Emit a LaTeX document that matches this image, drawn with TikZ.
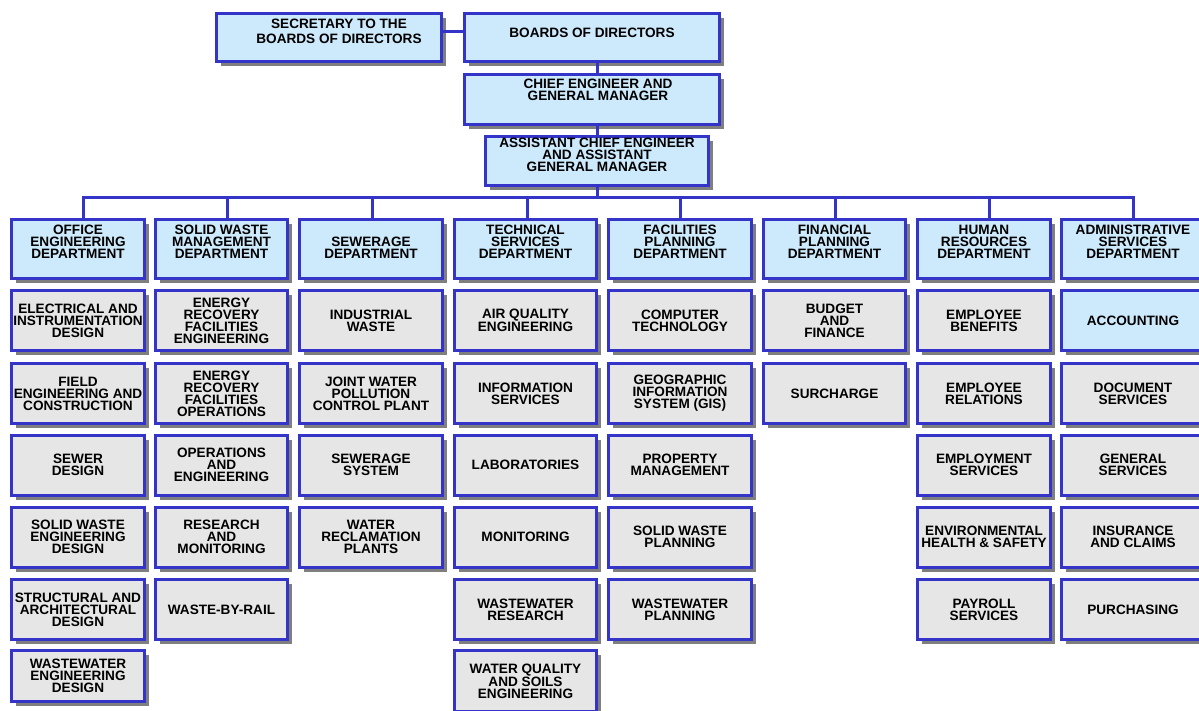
\documentclass[tikz,border=0pt]{standalone}
\usepackage{fontspec}
\setmainfont{Liberation Sans}
\usetikzlibrary{shadows}
\definecolor{bdr}{RGB}{52,52,200}
\definecolor{lb}{RGB}{204,234,252}
\definecolor{gr}{RGB}{230,230,230}
\definecolor{shd}{RGB}{105,105,105}
\newcommand\boxfont{\fontsize{13.6}{12}\selectfont\bfseries}
\newcommand\secfont{\fontsize{13.6}{15}\selectfont\bfseries}
\begin{document}
\begin{tikzpicture}[x=1pt,y=-1pt,
  box/.style={draw=bdr, line width=3pt, inner sep=0pt, align=center, font=\boxfont,
    drop shadow={shadow xshift=4.5pt, shadow yshift=-4.5pt, fill=shd, opacity=0.85}},
  hbox/.style={box, fill=lb},
  ibox/.style={box, fill=gr},
  txt/.style={inner sep=0pt, align=center, font=\boxfont},
  conn/.style={draw=bdr, line width=3pt},
  colA/.style={minimum width=133pt},
  colB/.style={minimum width=132pt},
  colC/.style={minimum width=143pt},
  colD/.style={minimum width=142pt},
  colE/.style={minimum width=143pt},
  colF/.style={minimum width=142pt},
  colG/.style={minimum width=133pt},
  colH/.style={minimum width=143pt},
  rowh/.style={minimum height=59pt},
  rowi/.style={minimum height=60pt},
]
\path[fill=white, use as bounding box] (0,0) rectangle (1199,711);

% top boxes
\node[hbox, minimum width=225pt, minimum height=48pt] (sec) at (329,37.5) {};
\node[txt, font=\secfont] (sect) at ([xshift=10pt,yshift=6pt]sec.center) {SECRETARY TO THE\\BOARDS OF DIRECTORS};
\node[hbox, minimum width=255pt, minimum height=48pt] (brd) at (592,37.5) {};
\node[txt] (brdt) at ([yshift=4.5pt]brd.center) {BOARDS OF DIRECTORS};
\node[hbox, minimum width=255pt, minimum height=50pt] (chf) at (592,99.5) {};
\node[txt] (chft) at ([xshift=6pt,yshift=9.5pt]chf.center) {CHIEF ENGINEER AND\\GENERAL MANAGER};
\node[hbox, minimum width=223pt, minimum height=49pt] (ast) at (597,161) {};
\node[txt] (astt) at ([yshift=6pt]ast.center) {ASSISTANT CHIEF ENGINEER\\AND ASSISTANT\\GENERAL MANAGER};

% department headers
\node[hbox, colA, rowh] (h1) at (78,249) {};
\node[hbox, colB, rowh] (h2) at (221.5,249) {};
\node[hbox, colC, rowh] (h3) at (371,249) {};
\node[hbox, colD, rowh] (h4) at (525.5,249) {};
\node[hbox, colE, rowh] (h5) at (680,249) {};
\node[hbox, colF, rowh] (h6) at (834.5,249) {};
\node[hbox, colG, rowh] (h7) at (984,249) {};
\node[hbox, colH, rowh] (h8) at (1133,249) {};
\node[txt] (h1t) at ([yshift=7.5pt]h1.center) {OFFICE\\ENGINEERING\\DEPARTMENT};
\node[txt] (h2t) at ([yshift=7.5pt]h2.center) {SOLID WASTE\\MANAGEMENT\\DEPARTMENT};
\node[txt] (h3t) at ([yshift=1.5pt]h3.center) {SEWERAGE\\DEPARTMENT};
\node[txt] (h4t) at ([yshift=7.5pt]h4.center) {TECHNICAL\\SERVICES\\DEPARTMENT};
\node[txt] (h5t) at ([yshift=7.5pt]h5.center) {FACILITIES\\PLANNING\\DEPARTMENT};
\node[txt] (h6t) at ([yshift=7.5pt]h6.center) {FINANCIAL\\PLANNING\\DEPARTMENT};
\node[txt] (h7t) at ([yshift=7.5pt]h7.center) {HUMAN\\RESOURCES\\DEPARTMENT};
\node[txt] (h8t) at ([yshift=7.5pt]h8.center) {ADMINISTRATIVE\\SERVICES\\DEPARTMENT};

% column 1
\node[ibox, colA, rowi] (a1) at (78,320.5) {ELECTRICAL AND\\INSTRUMENTATION\\DESIGN};
\node[ibox, colA, rowi] (a2) at (78,393.5) {FIELD\\ENGINEERING AND\\CONSTRUCTION};
\node[ibox, colA, rowi] (a3) at (78,465) {SEWER\\DESIGN};
\node[ibox, colA, rowi] (a4) at (78,537) {SOLID WASTE\\ENGINEERING\\DESIGN};
\node[ibox, colA, rowi] (a5) at (78,609.5) {STRUCTURAL AND\\ARCHITECTURAL\\DESIGN};
\node[ibox, colA, minimum height=51pt] (a6) at (78,676) {WASTEWATER\\ENGINEERING\\DESIGN};
% column 2
\node[ibox, colB, rowi] (b1) at (221.5,320.5) {ENERGY\\RECOVERY\\FACILITIES\\ENGINEERING};
\node[ibox, colB, rowi] (b2) at (221.5,393.5) {ENERGY\\RECOVERY\\FACILITIES\\OPERATIONS};
\node[ibox, colB, rowi] (b3) at (221.5,465) {OPERATIONS\\AND\\ENGINEERING};
\node[ibox, colB, rowi] (b4) at (221.5,537) {RESEARCH\\AND\\MONITORING};
\node[ibox, colB, rowi] (b5) at (221.5,609.5) {WASTE-BY-RAIL};
% column 3
\node[ibox, colC, rowi] (c1) at (371,320.5) {INDUSTRIAL\\WASTE};
\node[ibox, colC, rowi] (c2) at (371,393.5) {JOINT WATER\\POLLUTION\\CONTROL PLANT};
\node[ibox, colC, rowi] (c3) at (371,465) {SEWERAGE\\SYSTEM};
\node[ibox, colC, rowi] (c4) at (371,537) {WATER\\RECLAMATION\\PLANTS};
% column 4
\node[ibox, colD, rowi] (d1) at (525.5,320.5) {AIR QUALITY\\ENGINEERING};
\node[ibox, colD, rowi] (d2) at (525.5,393.5) {INFORMATION\\SERVICES};
\node[ibox, colD, rowi] (d3) at (525.5,465) {LABORATORIES};
\node[ibox, colD, rowi] (d4) at (525.5,537) {MONITORING};
\node[ibox, colD, rowi] (d5) at (525.5,609.5) {WASTEWATER\\RESEARCH};
\node[ibox, colD, minimum height=61pt] (d6) at (525.5,681) {WATER QUALITY\\AND SOILS\\ENGINEERING};
% column 5
\node[ibox, colE, rowi] (e1) at (680,320.5) {COMPUTER\\TECHNOLOGY};
\node[ibox, colE, rowi] (e2) at (680,393.5) {GEOGRAPHIC\\INFORMATION\\SYSTEM (GIS)};
\node[ibox, colE, rowi] (e3) at (680,465) {PROPERTY\\MANAGEMENT};
\node[ibox, colE, rowi] (e4) at (680,537) {SOLID WASTE\\PLANNING};
\node[ibox, colE, rowi] (e5) at (680,609.5) {WASTEWATER\\PLANNING};
% column 6
\node[ibox, colF, rowi] (f1) at (834.5,320.5) {BUDGET\\AND\\FINANCE};
\node[ibox, colF, rowi] (f2) at (834.5,393.5) {SURCHARGE};
% column 7
\node[ibox, colG, rowi] (g1) at (984,320.5) {EMPLOYEE\\BENEFITS};
\node[ibox, colG, rowi] (g2) at (984,393.5) {EMPLOYEE\\RELATIONS};
\node[ibox, colG, rowi] (g3) at (984,465) {EMPLOYMENT\\SERVICES};
\node[ibox, colG, rowi] (g4) at (984,537) {ENVIRONMENTAL\\HEALTH \& SAFETY};
\node[ibox, colG, rowi] (g5) at (984,609.5) {PAYROLL\\SERVICES};
% column 8
\node[hbox, colH, rowi] (k1) at (1133,320.5) {ACCOUNTING};
\node[ibox, colH, rowi] (k2) at (1133,393.5) {DOCUMENT\\SERVICES};
\node[ibox, colH, rowi] (k3) at (1133,465) {GENERAL\\SERVICES};
\node[ibox, colH, rowi] (k4) at (1133,537) {INSURANCE\\AND CLAIMS};
\node[ibox, colH, rowi] (k5) at (1133,609.5) {PURCHASING};

% connectors
\coordinate (t1) at (83,198);
\coordinate (t2) at (227,198);
\coordinate (t3) at (372,198);
\coordinate (t4) at (527,198);
\coordinate (t5) at (680,198);
\coordinate (t6) at (835,198);
\coordinate (t7) at (989,198);
\coordinate (t8) at (1133,198);
\draw[conn] ([yshift=5.5pt]sec.east) -- ([yshift=5.5pt]brd.west);
\draw[conn] (brd.south -| ast.north) -- (chf.north -| ast.north);
\draw[conn] (chf.south -| ast.north) -- (ast.north);
\draw[conn] (ast.south) -- (ast.south |- t1);
\draw[conn] (t1 |- h1.north) -- (t1) -- (t8) -- (t8 |- h8.north);
\draw[conn] (t2) -- (t2 |- h2.north);
\draw[conn] (t3) -- (t3 |- h3.north);
\draw[conn] (t4) -- (t4 |- h4.north);
\draw[conn] (t5) -- (t5 |- h5.north);
\draw[conn] (t6) -- (t6 |- h6.north);
\draw[conn] (t7) -- (t7 |- h7.north);
\end{tikzpicture}
\end{document}
